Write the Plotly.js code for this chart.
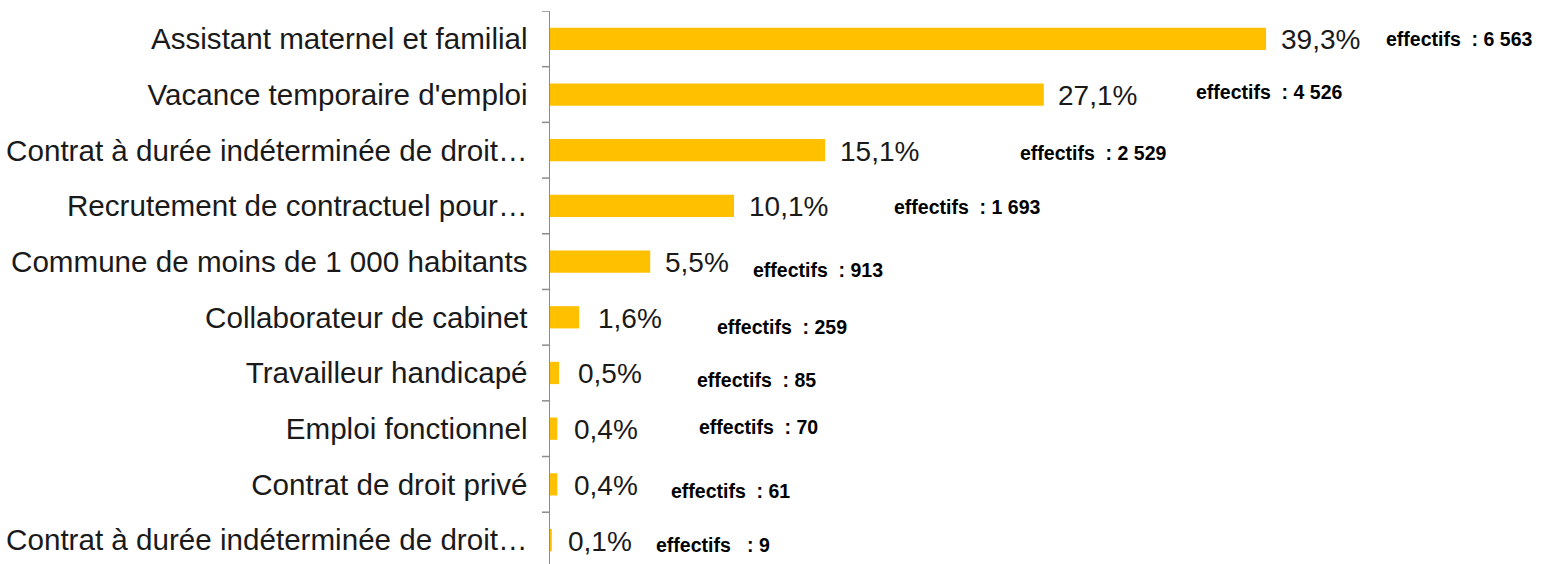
<!DOCTYPE html>
<html>
<head>
<meta charset="utf-8">
<script src="https://cdn.plot.ly/plotly-3.0.1.min.js"></script>
<style>html,body{margin:0;padding:0;background:#fff;}#chart{width:1541px;height:564px;}</style>
</head>
<body>
<div id="chart"></div>
<script>
const categories = [
  "Assistant maternel et familial",
  "Vacance temporaire d'emploi",
  "Contrat à durée indéterminée de droit…",
  "Recrutement de contractuel pour…",
  "Commune de moins de 1 000 habitants",
  "Collaborateur de cabinet",
  "Travailleur handicapé",
  "Emploi fonctionnel",
  "Contrat de droit privé",
  "Contrat à durée indéterminée de droit…"
];
const percentages = [39.3, 27.1, 15.1, 10.1, 5.5, 1.6, 0.5, 0.4, 0.4, 0.1];
const effectifs = [6563, 4526, 2529, 1693, 913, 259, 85, 70, 61, 9];
const effLabelPrefix = ["effectifs  : ", "effectifs  : ", "effectifs  : ", "effectifs  : ", "effectifs  : ",
                        "effectifs  : ", "effectifs  : ", "effectifs  : ", "effectifs  : ", "effectifs   : "];

// label placement (layout only, pixels)
const effXShift = [118, 150, 193, 158, 101, 136, 136, 140, 112, 102];
const effYShift = [0, 3, -3, -1, -8, -10, -7, 2, -7, -5];
const pctXShift = [13, 12, 13, 13, 13, 17, 17, 15, 15, 14];

const yKeys = categories.map((c, i) => i);

function fmtFr(n) {
  return String(n).replace(/\B(?=(\d{3})+(?!\d))/g, ' ');
}
function fmtPct(v) {
  return v.toFixed(1).replace('.', ',') + '%';
}

const annotations = [];
percentages.forEach((v, i) => {
  annotations.push({
    x: v, y: yKeys[i], xref: 'x', yref: 'y',
    text: fmtPct(v), showarrow: false,
    xanchor: 'left', yanchor: 'middle',
    xshift: pctXShift[i], yshift: -1,
    font: {family: 'Liberation Sans, Arial, sans-serif', size: 28, color: '#1a1a1a'}
  });
  annotations.push({
    x: v, y: yKeys[i], xref: 'x', yref: 'y',
    text: (effLabelPrefix[i] + fmtFr(effectifs[i])).replace(/ /g, '\u00A0'), showarrow: false,
    xanchor: 'left', yanchor: 'middle',
    xshift: effXShift[i], yshift: effYShift[i],
    font: {family: 'Liberation Sans, Arial, sans-serif', size: 19.5, color: '#000000', weight: 'bold'}
  });
});

const trace = {
  type: 'bar',
  orientation: 'h',
  x: percentages,
  y: yKeys,
  width: 0.4,
  marker: {color: '#FFC000'},
  hoverinfo: 'none'
};

const layout = {
  width: 1541, height: 564,
  margin: {l: 550, r: 0, t: 11, b: 0, pad: 0},
  paper_bgcolor: '#ffffff', plot_bgcolor: '#ffffff',
  showlegend: false,
  xaxis: {
    range: [0, 54.39], showgrid: false, zeroline: false,
    showticklabels: false, showline: false, ticks: ''
  },
  yaxis: {
    type: 'linear',
    range: [9.43, -0.5],
    tickmode: 'array',
    tickvals: yKeys,
    ticktext: categories,
    showgrid: false, zeroline: false,
    showline: true, linecolor: '#8c8c8c', linewidth: 1.5,
    ticks: '', ticklabelstandoff: 15,
    tickfont: {family: 'Liberation Sans, Arial, sans-serif', size: 29.6, color: '#1a1a1a'}
  },
  shapes: [],
  annotations: annotations
};

// outside tick marks at category boundaries
for (let k = 0; k <= 10; k++) {
  layout.shapes.push({
    type: 'line', xref: 'paper', yref: 'y',
    x0: -0.0081, x1: 0, y0: k - 0.5, y1: k - 0.5,
    line: {color: '#8c8c8c', width: 1.5}
  });
}

Plotly.newPlot('chart', [trace], layout, {displayModeBar: false, staticPlot: true});
</script>
</body>
</html>
